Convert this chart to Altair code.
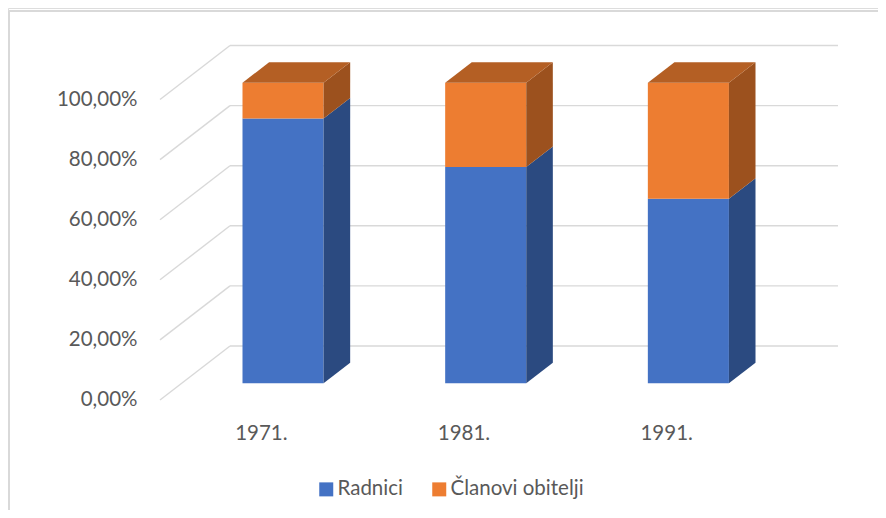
import altair as alt
import pandas as pd

# ---- data ----
years = ["1971.", "1981.", "1991."]
radnici = [88.1, 72.0, 61.4]
clanovi = [11.9, 28.0, 38.6]
series_names = ["Radnici", "Članovi obitelji"]
y_ticks = [0, 20, 40, 60, 80, 100]

# ---- styles ----
front_colors = ["#4472C4", "#ED7D31"]
side_colors = ["#2B4A80", "#9C511E"]
top_colors = ["#3A63AA", "#B45F24"]
GRID = "#D9D9D9"
TXT = "#595959"
FONT = "Lato"
FS = 20.5

# ---- oblique 3D projection constants (category units / percent units) ----
KX = 70 / 202.67      # horizontal shift per unit depth (in category units)
KY = 54 / 3.005       # vertical shift per unit depth (in percent units)
D0, D1 = 0.31, 0.69   # bar depth range
HALF = 0.2            # half bar width in category units

W, H = 870, 502
xs = alt.Scale(domain=[-0.75, 3.5427], nice=False, zero=False)
ys = alt.Scale(domain=[-36.606, 130.449], nice=False, zero=False)

# stacked segments
rows = []
for i, yr in enumerate(years):
    total = radnici[i] + clanovi[i]
    base = 0.0
    for s, vals in zip(series_names, [radnici, clanovi]):
        v = 100.0 * vals[i] / total
        rows.append(dict(year=yr, idx=i, series=s, v0=base, v1=base + v))
        base += v
seg = pd.DataFrame(rows)

front = seg.copy()
front["X"] = front["idx"] + 0.5 - HALF + D0 * KX
front["X2"] = front["idx"] + 0.5 + HALF + D0 * KX
front["Y"] = front["v0"] + D0 * KY
front["Y2"] = front["v1"] + D0 * KY

side_rows = []
for r in rows:
    for d in (D0, D1):
        side_rows.append(dict(key=r["year"] + r["series"], series=r["series"],
                              X=r["idx"] + 0.5 + HALF + d * KX,
                              Y=r["v0"] + d * KY, Y2=r["v1"] + d * KY))
side = pd.DataFrame(side_rows)

top_rows = []
for r in rows:
    if r["series"] != series_names[-1]:
        continue
    for d in (D0, D1):
        top_rows.append(dict(key=r["year"], series=r["series"],
                             Y=r["v1"] + d * KY,
                             X=r["idx"] + 0.5 - HALF + d * KX,
                             X2=r["idx"] + 0.5 + HALF + d * KX))
top = pd.DataFrame(top_rows)

grid = pd.DataFrame({"v": y_ticks})
grid["dx0"] = 0.0
grid["dx1"] = KX
grid["dy1"] = grid["v"] + KY
grid["bx1"] = len(years) + KX

labels = pd.DataFrame({"year": years, "u": [i + 0.5 for i in range(len(years))], "v": [0.0] * len(years)})

y_axis = alt.Axis(values=y_ticks, labelExpr="replace(format(datum.value, '.2f'), '.', ',') + '%'",
                  domain=False, ticks=False, grid=False, offset=-129, labelPadding=0,
                  labelFont=FONT, labelFontSize=FS, labelColor=TXT, title=None,
                  labelOverlap=False, labelBound=False)

diag = alt.Chart(grid).mark_rule(color=GRID, strokeWidth=1.4).encode(
    x=alt.X("dx0:Q", scale=xs, axis=None), x2="dx1:Q",
    y=alt.Y("v:Q", scale=ys, axis=y_axis), y2="dy1:Q")

back = alt.Chart(grid).mark_rule(color=GRID, strokeWidth=1.4).encode(
    x=alt.X("dx1:Q", scale=xs, axis=None), x2="bx1:Q",
    y=alt.Y("dy1:Q", scale=ys, axis=None))

front_l = alt.Chart(front).mark_rect().encode(
    x=alt.X("X:Q", scale=xs, axis=None), x2="X2:Q",
    y=alt.Y("Y:Q", scale=ys, axis=None), y2="Y2:Q",
    color=alt.Color("series:N", scale=alt.Scale(domain=series_names, range=front_colors),
                    legend=alt.Legend(orient="none", legendX=308, legendY=471, direction="horizontal",
                                      title=None, symbolType="square", symbolSize=196,
                                      symbolStrokeWidth=0, labelFont=FONT, labelFontSize=FS,
                                      labelColor=TXT, columnPadding=26, labelOffset=1)))

side_l = alt.Chart(side).mark_area(interpolate="linear").encode(
    x=alt.X("X:Q", scale=xs, axis=None),
    y=alt.Y("Y:Q", scale=ys, axis=None, stack=None), y2="Y2:Q",
    detail="key:N",
    color=alt.Color("series:N", scale=alt.Scale(domain=series_names, range=side_colors), legend=None))

top_l = alt.Chart(top).mark_area(orient="horizontal", interpolate="linear").encode(
    y=alt.Y("Y:Q", scale=ys, axis=None),
    x=alt.X("X:Q", scale=xs, axis=None, stack=None), x2="X2:Q",
    detail="key:N",
    color=alt.Color("series:N", scale=alt.Scale(domain=series_names, range=top_colors), legend=None))

cat_l = alt.Chart(labels).mark_text(font=FONT, fontSize=FS, color=TXT, dy=34).encode(
    x=alt.X("u:Q", scale=xs, axis=None), y=alt.Y("v:Q", scale=ys, axis=None), text="year:N")

one = pd.DataFrame({"a": [0]})
border_left = alt.Chart(one).mark_rule(color=GRID, strokeWidth=2).encode(
    x=alt.value(1), y=alt.value(3), y2=alt.value(H))
border_top = alt.Chart(one).mark_rule(color=GRID, strokeWidth=2).encode(
    x=alt.value(1), x2=alt.value(W), y=alt.value(3))

chart = alt.layer(diag, border_left, border_top, back, front_l, side_l, top_l, cat_l).resolve_scale(
    color="independent"
).resolve_axis(y="independent", x="independent").properties(
    width=W, height=H, autosize=alt.AutoSizeParams(type="none"), padding=0
).configure_view(stroke=None).configure(background="white")

chart.save("out.html", embed_options={"renderer": "svg", "actions": False})
